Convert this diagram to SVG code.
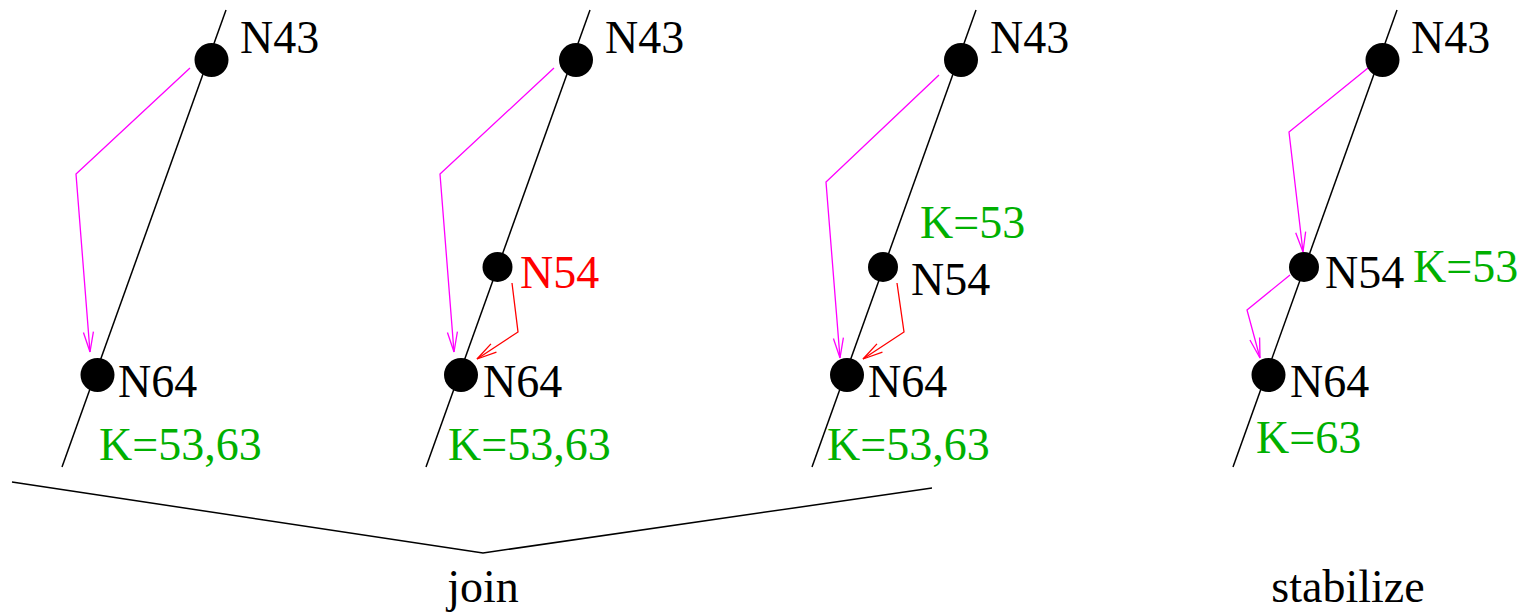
<svg xmlns="http://www.w3.org/2000/svg" width="1524" height="613" viewBox="0 0 1524 613">
<style>
text{font-family:"Times New Roman",Times,"Liberation Serif","Nimbus Roman","Nimbus Roman No9 L","Noto Serif","DejaVu Serif",serif;font-size:46px}
.k{fill:#00b000}
.r{fill:#ff0000}
.ln{stroke:#000;stroke-width:1.5;fill:none}
.mg{stroke:#ff00ff;stroke-width:1.3;fill:none;marker-end:url(#am)}
.rd{stroke:#ff0000;stroke-width:1.3;fill:none;marker-end:url(#ar)}
</style>
<defs>
<marker id="am" markerUnits="userSpaceOnUse" markerWidth="24" markerHeight="14" refX="20" refY="5" orient="auto" overflow="visible"><path d="M0,0 L20,5 L0,10" fill="none" stroke="#ff00ff" stroke-width="1.3"/></marker>
<marker id="ar" markerUnits="userSpaceOnUse" markerWidth="24" markerHeight="14" refX="20" refY="5" orient="auto" overflow="visible"><path d="M0,0 L20,5 L0,10" fill="none" stroke="#ff0000" stroke-width="1.3"/></marker>
</defs>
<g id="axes">
<line class="ln" x1="226" y1="10" x2="62" y2="467"/>
<line class="ln" x1="590" y1="10" x2="426" y2="467"/>
<line class="ln" x1="976" y1="10" x2="812" y2="467"/>
<line class="ln" x1="1397" y1="10" x2="1233" y2="467"/>
<polyline class="ln" points="12,482 483,553 932,488"/>
</g>
<g id="connectors">
<polyline class="mg" points="190,68 76,174 90,352"/>
<polyline class="mg" points="554,68 440,174 454,352"/>
<polyline class="rd" points="512,283 518,332 477,359"/>
<polyline class="mg" points="939,75 826,182 840,358"/>
<polyline class="rd" points="897,283 904,332 863,359"/>
<polyline class="mg" points="1368,68 1289,132 1303,252"/>
<polyline class="mg" points="1290,275 1247,310 1260,358"/>
</g>
<g id="p1">
<g id="p1-n43"><circle cx="211.5" cy="60" r="17"/><text x="240" y="53">N43</text></g>
<g id="p1-n64"><circle cx="97.5" cy="375" r="17"/><text x="118" y="397">N64</text></g>
<text class="k" x="99" y="460">K=53,63</text>
</g>
<g id="p2">
<g id="p2-n43"><circle cx="576" cy="60" r="17"/><text x="605" y="53">N43</text></g>
<g id="p2-n54"><circle cx="497.5" cy="267" r="15"/><text class="r" x="520" y="288">N54</text></g>
<g id="p2-n64"><circle cx="461" cy="375" r="17"/><text x="483" y="397">N64</text></g>
<text class="k" x="448" y="460">K=53,63</text>
</g>
<g id="p3">
<g id="p3-n43"><circle cx="961" cy="60" r="17"/><text x="990" y="53">N43</text></g>
<text class="k" x="920" y="238">K=53</text>
<g id="p3-n54"><circle cx="883" cy="267" r="15"/><text x="911" y="295">N54</text></g>
<g id="p3-n64"><circle cx="847" cy="375" r="17"/><text x="868" y="397">N64</text></g>
<text class="k" x="827" y="460">K=53,63</text>
</g>
<g id="p4">
<g id="p4-n43"><circle cx="1382.5" cy="60" r="17"/><text x="1411" y="53">N43</text></g>
<g id="p4-n54"><circle cx="1304" cy="267" r="15"/><text x="1325" y="288">N54</text></g>
<text class="k" x="1413" y="282">K=53</text>
<g id="p4-n64"><circle cx="1268.5" cy="375" r="17"/><text x="1290" y="397">N64</text></g>
<text class="k" x="1256" y="453">K=63</text>
</g>
<g id="labels">
<text x="483" y="602" text-anchor="middle">join</text>
<text x="1348" y="602" text-anchor="middle">stabilize</text>
</g>
</svg>
